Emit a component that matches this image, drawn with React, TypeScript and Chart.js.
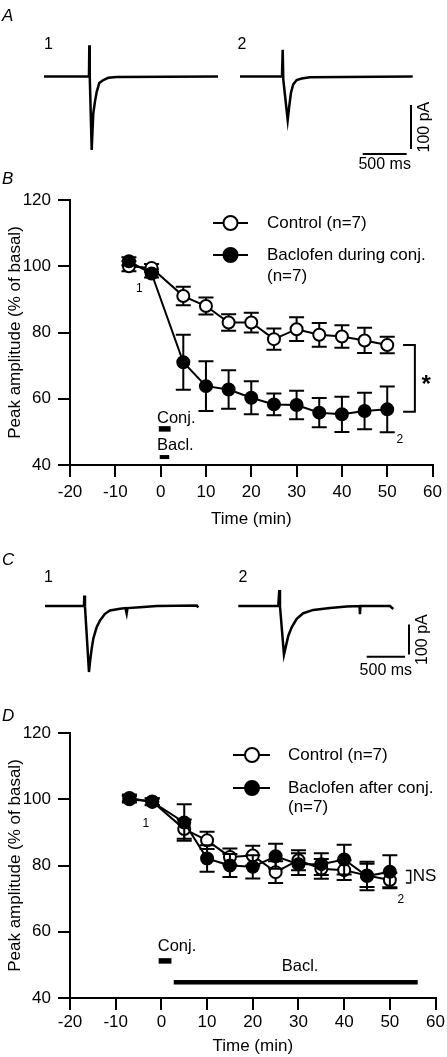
import React, { useEffect, useRef } from "react";
import { Chart, registerables } from "chart.js";

Chart.register(...registerables);

const FAMILY = '"Liberation Sans", Arial, Helvetica, sans-serif';
const fnt = (size: number, style = "normal") => `${style} ${size}px ${FAMILY}`;

/* ---------------- Panels B and D: time course ---------------- */
const timeMin = [-7, -2, 5, 10, 15, 20, 25, 30, 35, 40, 45, 50];
const xTickValues = [-20, -10, 0, 10, 20, 30, 40, 50, 60];
const yTickValues = [40, 60, 80, 100, 120];

const bControlMean = [100, 99.5, 91, 88, 83, 83, 78, 81, 79.3, 78.8, 77.6, 76.2];
const bControlSem = [1.5, 1.2, 2.8, 2.6, 2.5, 3, 3.2, 3.6, 3.6, 3.4, 3.8, 2.5];
const bBaclMean = [101.5, 97.8, 71, 63.8, 62.8, 60.3, 58.3, 58.1, 55.8, 55.3, 56.3, 56.8];
const bBaclSem = [1.2, 1.2, 8.3, 7.5, 5.8, 5, 3.3, 4.3, 4.4, 5.3, 5.5, 6.9];

const dControlMean = [100, 99.3, 91, 87.6, 82.6, 83, 78, 81.6, 79, 78.6, 77, 75.6];
const dControlSem = [1, 1, 2.9, 2.6, 2.5, 3, 3.3, 3, 3, 3, 3.5, 2.2];
const dBaclMean = [100.4, 99.2, 93, 82.1, 80, 79.6, 82.8, 80.4, 80.4, 81.8, 76.8, 78.1];
const dBaclSem = [1, 1, 5.5, 4, 3.5, 3.5, 3.8, 3.3, 3.3, 4.5, 4.3, 5];

const legendControl = ["Control (n=7)"];
const bLegendBacl = ["Baclofen during conj.", "(n=7)"];
const dLegendBacl = ["Baclofen after conj.", "(n=7)"];

// application periods (min)
const bConjPeriod = [-0.4, 2.2];
const bBaclPeriod = [-0.2, 1.9];
const dConjPeriod = [-0.6, 2.2];
const dBaclPeriod = [2.7, 56.1];

/* ---------------- Panels A and C: current traces (ms, pA) ---------------- */
type Pt = [number, number];
const traceA1: Pt[] = [
  [0, 0], [485, 0], [511, 0], [515, 71], [520, 0], [542, -167], [560, -84], [579, -57],
  [599, -35], [628, -15], [674, -8], [730, -3], [826, -1], [1977, 0],
];
const traceA2: Pt[] = [
  [0, 0], [477, 0], [485, 61], [492, -7], [542, -99], [560, -67], [579, -37], [605, -18],
  [644, -8], [701, -4.5], [795, -1.5], [1962, 0],
];
const traceC1: Pt[] = [
  [0, 0], [509, 0], [513, 35], [522, -2], [574, -220], [587, -187], [609, -143], [630, -109],
  [674, -71], [718, -48], [783, -26], [848, -15], [979, -9], [1050, -7], [1066, -25], [1077, -7],
  [1240, -4], [1458, 0], [1980, 2], [2001, -5],
];
const traceC2: Pt[] = [
  [0, 0], [522, 0], [535, 53], [544, 0], [596, -162], [623, -132], [653, -99], [697, -71],
  [762, -43], [848, -24], [979, -13], [1197, -7], [1415, -2], [1582, 0], [1588, -27], [1595, 0],
  [1980, 0], [2023, -10],
];
const scaleBarMs = 500;
const scaleBarPa = 100;

type Ctx = CanvasRenderingContext2D;

function txt(ctx: Ctx, s: string, x: number, y: number, size: number, align: CanvasTextAlign = "center", style = "normal") {
  ctx.font = fnt(size, style);
  ctx.textAlign = align;
  ctx.textBaseline = "middle";
  ctx.fillStyle = "#000";
  ctx.fillText(s, x, y);
}
function hbar(ctx: Ctx, x0: number, x1: number, y: number, th: number) {
  ctx.fillStyle = "#000";
  ctx.fillRect(x0, y - th / 2, x1 - x0, th);
}
function bracket(ctx: Ctx, xl: number, xr: number, yt: number, yb: number, lw: number) {
  ctx.strokeStyle = "#000";
  ctx.lineWidth = lw;
  ctx.beginPath();
  ctx.moveTo(xl, yt);
  ctx.lineTo(xr, yt);
  ctx.lineTo(xr, yb);
  ctx.lineTo(xl, yb);
  ctx.stroke();
}

const errorBars = {
  id: "errorBars",
  beforeDatasetDraw(chart: any, args: any) {
    const ds = chart.data.datasets[args.index];
    if (!ds.errors) return;
    const xs = chart.scales.x;
    const ys = chart.scales.y;
    const ctx: Ctx = chart.ctx;
    ctx.save();
    ctx.strokeStyle = "#000";
    ctx.lineWidth = 2;
    ds.data.forEach((p: any, i: number) => {
      const e = ds.errors[i];
      const px = xs.getPixelForValue(p.x);
      const top = ys.getPixelForValue(p.y + e);
      const bot = ys.getPixelForValue(p.y - e);
      ctx.beginPath();
      ctx.moveTo(px, top);
      ctx.lineTo(px, bot);
      ctx.moveTo(px - 7.5, top);
      ctx.lineTo(px + 7.5, top);
      ctx.moveTo(px - 7.5, bot);
      ctx.lineTo(px + 7.5, bot);
      ctx.stroke();
    });
    ctx.restore();
  },
};

interface CourseSpec {
  letter: string;
  letterY: number;
  controlMean: number[];
  controlSem: number[];
  baclMean: number[];
  baclSem: number[];
  legendControl: string[];
  legendBacl: string[];
  legendX: number[];
  legendY: number[];
  legendGap: number;
  topPad: number;
  xAxisHeight: number;
  xTickPad: number;
  annotate: (ctx: Ctx, X: (v: number) => number, Y: (v: number) => number) => void;
}

function courseConfig(s: CourseSpec): any {
  const series = (mean: number[], sem: number[], fill: string, label: string) => ({
    label,
    data: timeMin.map((t, i) => ({ x: t, y: mean[i] })),
    errors: sem,
    borderColor: "#000",
    backgroundColor: fill,
    borderWidth: 2,
    pointRadius: 6,
    pointHoverRadius: 6,
    pointBorderWidth: 2,
    pointBackgroundColor: fill,
    pointBorderColor: "#000",
    tension: 0,
    fill: false,
    clip: false,
  });
  const grid = {
    display: true,
    drawOnChartArea: false,
    drawTicks: true,
    tickLength: 12,
    tickWidth: 2,
    tickColor: "#000",
    color: "#000",
    lineWidth: 2,
  };
  const border = { display: true, color: "#000", width: 2 };
  const tickFont = { family: FAMILY, size: 17 };
  return {
    type: "line",
    data: {
      datasets: [
        series(s.baclMean, s.baclSem, "#000", s.legendBacl.join(" ")),
        series(s.controlMean, s.controlSem, "#fff", s.legendControl.join(" ")),
      ],
    },
    options: {
      animation: false,
      responsive: false,
      devicePixelRatio: 1,
      events: [],
      layout: { padding: { top: s.topPad, right: 10, left: 0, bottom: 0 } },
      plugins: { legend: { display: false }, tooltip: { enabled: false } },
      scales: {
        x: {
          type: "linear",
          position: "bottom",
          min: -20,
          max: 60,
          afterBuildTicks: (sc: any) => {
            sc.ticks = xTickValues.map((v) => ({ value: v }));
          },
          afterFit: (sc: any) => {
            sc.height = s.xAxisHeight;
          },
          grid,
          border,
          ticks: { color: "#000", font: tickFont, padding: s.xTickPad, maxRotation: 0, autoSkip: false },
          title: {
            display: true,
            text: "Time (min)",
            color: "#000",
            font: tickFont,
            padding: { top: 0, bottom: 0 },
          },
        },
        y: {
          type: "linear",
          position: "left",
          min: 40,
          max: 120,
          afterBuildTicks: (sc: any) => {
            sc.ticks = yTickValues.map((v) => ({ value: v }));
          },
          afterFit: (sc: any) => {
            sc.width = 70;
          },
          grid,
          border,
          ticks: { color: "#000", font: tickFont, padding: 7, autoSkip: false },
          title: {
            display: true,
            text: "Peak amplitude (% of basal)",
            color: "#000",
            font: tickFont,
            padding: { top: 5, bottom: 0 },
          },
        },
      },
    },
    plugins: [
      errorBars,
      {
        id: "courseAnno",
        afterDraw(chart: any) {
          const ctx: Ctx = chart.ctx;
          const X = (v: number) => chart.scales.x.getPixelForValue(v);
          const Y = (v: number) => chart.scales.y.getPixelForValue(v);
          ctx.save();
          txt(ctx, s.letter, 2, s.letterY, 17, "left", "italic");
          // legend
          const rows = [
            { ds: chart.data.datasets[1], lines: s.legendControl, y: s.legendY[0] },
            { ds: chart.data.datasets[0], lines: s.legendBacl, y: s.legendY[1] },
          ];
          rows.forEach((r) => {
            ctx.strokeStyle = "#000";
            ctx.lineWidth = 2;
            ctx.beginPath();
            ctx.moveTo(s.legendX[0], r.y);
            ctx.lineTo(s.legendX[1], r.y);
            ctx.stroke();
            ctx.beginPath();
            ctx.arc(s.legendX[2], r.y, 7, 0, Math.PI * 2);
            ctx.fillStyle = r.ds.pointBackgroundColor;
            ctx.fill();
            ctx.stroke();
            r.lines.forEach((l, i) => txt(ctx, l, s.legendX[3], r.y + i * s.legendGap, 17, "left"));
          });
          s.annotate(ctx, X, Y);
          ctx.restore();
        },
      },
    ],
  };
}

const panelB: CourseSpec = {
  letter: "B",
  letterY: 9,
  controlMean: bControlMean,
  controlSem: bControlSem,
  baclMean: bBaclMean,
  baclSem: bBaclSem,
  legendControl,
  legendBacl: bLegendBacl,
  legendX: [213, 248, 230.5, 267],
  legendY: [53, 85],
  legendGap: 21,
  topPad: 30,
  xAxisHeight: 65,
  xTickPad: 5,
  annotate: (ctx, X, Y) => {
    txt(ctx, "1", X(-4.7), Y(93.1), 12);
    txt(ctx, "2", X(52.8), Y(47.5), 12);
    txt(ctx, "Conj.", X(-0.8), Y(54.2), 16.5, "left");
    hbar(ctx, X(bConjPeriod[0]), X(bConjPeriod[1]), Y(50.9), 5.5);
    txt(ctx, "Bacl.", X(-0.8), Y(46.0), 16.5, "left");
    hbar(ctx, X(bBaclPeriod[0]), X(bBaclPeriod[1]), Y(42.4), 4);
    bracket(ctx, X(53.5), X(56.1), Y(76.2), Y(56.1), 2);
    txt(ctx, "*", X(58.6), Y(64.0), 24, "center", "bold");
  },
};

const panelD: CourseSpec = {
  letter: "D",
  letterY: 16,
  controlMean: dControlMean,
  controlSem: dControlSem,
  baclMean: dBaclMean,
  baclSem: dBaclSem,
  legendControl,
  legendBacl: dLegendBacl,
  legendX: [233, 270, 252, 288],
  legendY: [55, 88],
  legendGap: 19.5,
  topPad: 33,
  xAxisHeight: 59,
  xTickPad: 2,
  annotate: (ctx, X, Y) => {
    txt(ctx, "1", X(-3.4), Y(92.7), 12);
    txt(ctx, "2", X(52.4), Y(69.8), 12);
    txt(ctx, "Conj.", X(-0.8), Y(55.6), 16.5, "left");
    hbar(ctx, X(dConjPeriod[0]), X(dConjPeriod[1]), Y(51.2), 5.5);
    txt(ctx, "Bacl.", X(30.35), Y(49.4), 16.5, "center");
    hbar(ctx, X(dBaclPeriod[0]), X(dBaclPeriod[1]), Y(44.75), 4.5);
    bracket(ctx, X(53.5), X(54.55), Y(78.5), Y(74.7), 1.5);
    txt(ctx, "NS", X(55.0), Y(76.6), 17, "left");
  },
};

interface TraceSpec {
  letter: string;
  letterY: number;
  trace1: Pt[];
  trace2: Pt[];
  x1: number[];
  x2: number[];
  y: number[];
  hBarStartMs: number;
  hBarPa: number;
  vBarMs: number;
  vBarTopPa: number;
  labels: { text: string; x: number; y: number }[];
  paLabelDx: number;
  msLabelDy: number;
}

function traceConfig(s: TraceSpec): any {
  const line = (pts: Pt[], axis: string, w = 2.5) => ({
    data: pts.map(([x, y]) => ({ x, y })),
    xAxisID: axis,
    yAxisID: "y",
    borderColor: "#000",
    borderWidth: w,
    pointRadius: 0,
    tension: 0,
    fill: false,
    clip: false,
  });
  const hBar: Pt[] = [
    [s.hBarStartMs, s.hBarPa],
    [s.hBarStartMs + scaleBarMs, s.hBarPa],
  ];
  const vBar: Pt[] = [
    [s.vBarMs, s.vBarTopPa],
    [s.vBarMs, s.vBarTopPa - scaleBarPa],
  ];
  return {
    type: "line",
    data: {
      datasets: [line(s.trace1, "x1"), line(s.trace2, "x2"), line(hBar, "x2", 2), line(vBar, "x2", 2)],
    },
    options: {
      animation: false,
      responsive: false,
      devicePixelRatio: 1,
      events: [],
      layout: { padding: 0 },
      plugins: { legend: { display: false }, tooltip: { enabled: false } },
      scales: {
        x1: { type: "linear", display: false, min: s.x1[0], max: s.x1[1] },
        x2: { type: "linear", display: false, min: s.x2[0], max: s.x2[1] },
        y: { type: "linear", display: false, min: s.y[0], max: s.y[1] },
      },
    },
    plugins: [
      {
        id: "traceAnno",
        afterDraw(chart: any) {
          const ctx: Ctx = chart.ctx;
          const X2 = (v: number) => chart.scales.x2.getPixelForValue(v);
          const Y = (v: number) => chart.scales.y.getPixelForValue(v);
          ctx.save();
          txt(ctx, s.letter, 2, s.letterY, 17, "left", "italic");
          s.labels.forEach((l) => txt(ctx, l.text, l.x, l.y, 16));
          const vx = X2(s.vBarMs) + s.paLabelDx;
          const vy = (Y(s.vBarTopPa) + Y(s.vBarTopPa - scaleBarPa)) / 2;
          ctx.translate(vx, vy);
          ctx.rotate(-Math.PI / 2);
          txt(ctx, `${scaleBarPa} pA`, 0, 0, 16);
          ctx.setTransform(1, 0, 0, 1, 0, 0);
          txt(ctx, `${scaleBarMs} ms`, (X2(s.hBarStartMs) + X2(s.hBarStartMs + scaleBarMs)) / 2, Y(s.hBarPa) + s.msLabelDy, 16);
          ctx.restore();
        },
      },
    ],
  };
}

const panelA: TraceSpec = {
  letter: "A",
  letterY: 16,
  trace1: traceA1,
  trace2: traceA2,
  x1: [-500, 4579.5],
  x2: [-2727, 2352],
  y: [-223.9, 173.9],
  hBarStartMs: 1394,
  hBarPa: -176,
  vBarMs: 1943,
  vBarTopPa: -65,
  labels: [
    { text: "1", x: 48.5, y: 45 },
    { text: "2", x: 242, y: 45 },
  ],
  paLabelDx: 14,
  msLabelDy: 11,
};

const panelC: TraceSpec = {
  letter: "C",
  letterY: 20,
  trace1: traceC1,
  trace2: traceC2,
  x1: [-587, 5246],
  x2: [-3110, 2724],
  y: [-280, 220],
  hBarStartMs: 1676,
  hBarPa: -169,
  vBarMs: 2228,
  vBarTopPa: -62,
  labels: [
    { text: "1", x: 48.5, y: 38 },
    { text: "2", x: 243, y: 38 },
  ],
  paLabelDx: 14,
  msLabelDy: 14,
};

export default function App() {
  const aRef = useRef<HTMLCanvasElement>(null);
  const bRef = useRef<HTMLCanvasElement>(null);
  const cRef = useRef<HTMLCanvasElement>(null);
  const dRef = useRef<HTMLCanvasElement>(null);

  useEffect(() => {
    const charts = [
      new Chart(aRef.current as HTMLCanvasElement, traceConfig(panelA)),
      new Chart(bRef.current as HTMLCanvasElement, courseConfig(panelB)),
      new Chart(cRef.current as HTMLCanvasElement, traceConfig(panelC)),
      new Chart(dRef.current as HTMLCanvasElement, courseConfig(panelD)),
    ];
    return () => charts.forEach((c) => c.destroy());
  }, []);

  const cs = (top: number, h: number): React.CSSProperties => ({
    position: "absolute",
    left: 0,
    top,
    width: 447,
    height: h,
    display: "block",
  });

  return (
    <div
      style={{
        position: "absolute",
        left: 0,
        top: 0,
        width: 447,
        height: 1057,
        background: "#fff",
        overflow: "hidden",
      }}
    >
      <canvas ref={aRef} width={447} height={175} style={cs(0, 175)} />
      <canvas ref={bRef} width={447} height={360} style={cs(170, 360)} />
      <canvas ref={cRef} width={447} height={150} style={cs(540, 150)} />
      <canvas ref={dRef} width={447} height={357} style={cs(700, 357)} />
    </div>
  );
}
